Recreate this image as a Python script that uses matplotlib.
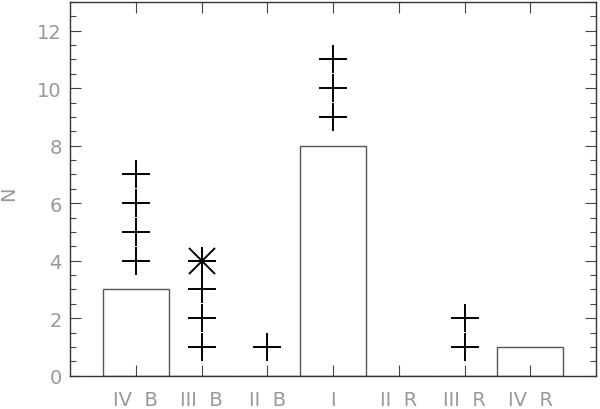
import matplotlib
matplotlib.use("Agg")
import matplotlib.pyplot as plt
from matplotlib.ticker import MultipleLocator
import numpy as np

categories = ["IV  B", "III  B", "II  B", "I", "II  R", "III  R", "IV  R"]
bar_values = [3, 0, 0, 8, 0, 0, 1]
# plus markers: (category index, N)
plus_cat = [0, 0, 0, 0, 1, 1, 1, 2, 3, 3, 3, 5, 5]
plus_val = [4, 5, 6, 7, 1, 2, 3, 1, 9, 10, 11, 1, 2]
# asterisk markers
star_cat = [1]
star_val = [4]

fig = plt.figure(figsize=(6.0, 4.1), dpi=100)
ax = fig.add_axes([70/600, 1-376.7/410, (596-70)/600, (376.7-3)/410])

x = np.arange(len(categories))
ax.bar(x, bar_values, width=1.0, facecolor="none", edgecolor="#555555", linewidth=1.0)

ms = 20
ax.plot(plus_cat, plus_val, linestyle="none", marker="+", markersize=ms,
        markeredgewidth=1.4, color="black")
ax.plot(star_cat, star_val, linestyle="none", marker="+", markersize=ms,
        markeredgewidth=1.4, color="black")
ax.plot(star_cat, star_val, linestyle="none", marker="x", markersize=ms*0.95,
        markeredgewidth=1.4, color="black")

ax.set_xlim(-1, 7)
ax.set_ylim(0, 13)
ax.set_xticks(x)
ax.set_xticklabels(categories)
ax.yaxis.set_major_locator(MultipleLocator(2))
ax.yaxis.set_minor_locator(MultipleLocator(0.5))

tc = "#999999"
ax.tick_params(axis="both", which="both", direction="in", top=True, right=True,
               colors="#444444", labelcolor=tc, labelsize=14, width=0.8)
ax.tick_params(axis="y", which="major", length=8)
ax.tick_params(axis="y", which="minor", length=4)
ax.tick_params(axis="x", which="major", length=8, pad=10)
ax.tick_params(axis="y", which="major", pad=6)

for s in ax.spines.values():
    s.set_color("#333333")
    s.set_linewidth(1.0)

ax.set_ylabel("N", color=tc, fontsize=14)
ax.yaxis.set_label_coords(-0.098, 0.49)

fig.savefig("out.png", dpi=100)
